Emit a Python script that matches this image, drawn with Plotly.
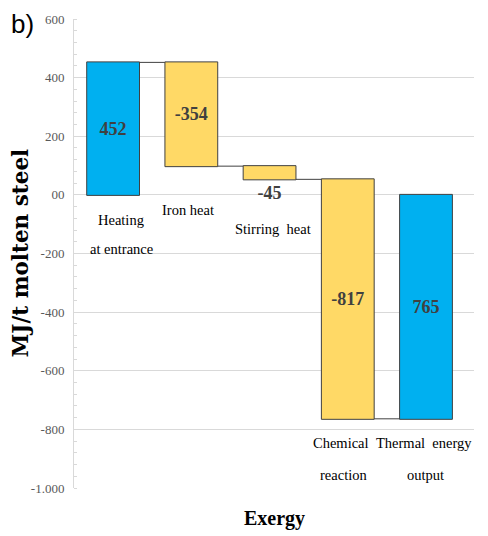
import plotly.graph_objects as go

# ---- data ----
categories = ["Heating at entrance", "Iron heat", "Stirring heat", "Chemical reaction", "Thermal energy output"]
values = [452, -354, -45, -817, 0]
measures = ["relative", "relative", "relative", "relative", "total"]
bar_labels = ["452", "-354", "-45", "-817", "765"]
cat_lines = [["Heating", "at entrance"], ["Iron heat"], ["Stirring  heat"],
             ["Chemical", "reaction"], ["Thermal  energy", "output"]]
y_tickvals = [600, 400, 200, 0, -200, -400, -600, -800, -1000]
y_ticktext = ["600", "400", "200", "00", "-200", "-400", "-600", "-800", "-1.000"]

BLUE = "#00B0F0"
GOLD = "#FFD966"
DARK = "#404040"
GRID = "#D9D9D9"
SERIF = "Liberation Serif"

fig = go.Figure(go.Waterfall(
    x=categories,
    y=values,
    measure=measures,
    text=bar_labels,
    texttemplate="<b>%{text}</b>",
    textposition=["inside", "inside", "outside", "inside", "inside"],
    insidetextanchor="middle",
    constraintext="none",
    textfont=dict(family=SERIF, size=18, color=DARK),
    width=0.675,
    increasing=dict(marker=dict(color=BLUE, line=dict(color=DARK, width=1))),
    decreasing=dict(marker=dict(color=GOLD, line=dict(color=DARK, width=1))),
    totals=dict(marker=dict(color=BLUE, line=dict(color=DARK, width=1))),
    connector=dict(mode="between", line=dict(color=DARK, width=1)),
    cliponaxis=False,
))

# category label placement (pixel-derived y positions in data units, x shift in px)
label_pos = [[(-85, 8), (-186, 8)], [(-51, -3)], [(-115, 3)],
             [(-847, -7), (-956, -4)], [(-847, -2), (-956, -1)]]
annotations = []
for cat, lines, pos in zip(categories, cat_lines, label_pos):
    for line, (yv, xs) in zip(lines, pos):
        annotations.append(dict(x=cat, y=yv, xref="x", yref="y", text=line,
                                showarrow=False, xshift=xs, xanchor="center", yanchor="middle",
                                font=dict(family=SERIF, size=14.5, color="#000000")))

annotations.append(dict(x=-0.135, y=0.5, xref="paper", yref="paper",
                        text="<b>MJ/t molten steel</b>", textangle=-90, showarrow=False,
                        xanchor="center", yanchor="middle",
                        font=dict(family="DejaVu Serif", size=21.5, color="#000000")))
annotations.append(dict(x=0.5, y=-0.066, xref="paper", yref="paper",
                        text="<b>Exergy</b>", showarrow=False,
                        xanchor="center", yanchor="middle",
                        font=dict(family=SERIF, size=20, color="#000000")))
annotations.append(dict(x=-0.128, y=0.99, xref="paper", yref="paper",
                        text="b)", showarrow=False, xanchor="center", yanchor="middle",
                        font=dict(family="Liberation Sans", size=26, color="#000000")))

fig.update_layout(
    width=488, height=536,
    margin=dict(l=74, r=14, t=16, b=48),
    paper_bgcolor="white", plot_bgcolor="white",
    showlegend=False,
    annotations=annotations,
    xaxis=dict(showticklabels=False, showgrid=False, zeroline=False, showline=False,
               ticks=""),
    yaxis=dict(range=[-1000, 600], tickvals=y_tickvals, ticktext=y_ticktext,
               showgrid=True, gridcolor=GRID, gridwidth=1,
               zeroline=True, zerolinecolor=GRID, zerolinewidth=1,
               showline=True, linecolor=GRID, linewidth=1,
               ticks="", ticklabelstandoff=6,
               tickfont=dict(family=SERIF, size=13, color="#595959"),
               minor=dict(dtick=40, ticks="inside", ticklen=3, tickcolor=GRID, showgrid=False)),
)

fig.write_html("out.html", config={"displayModeBar": False},
               post_script="document.body.style.margin='0';")
